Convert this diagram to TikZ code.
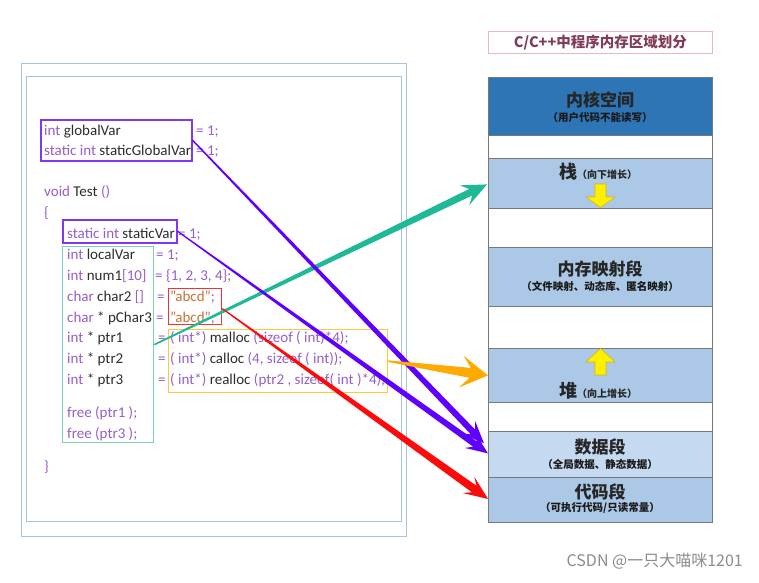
\documentclass[tikz,border=0pt]{standalone}
\usepackage{fontspec}
\setmainfont{Carlito}
\newfontfamily\cjk{Noto Sans CJK SC}
\usetikzlibrary{calc}
\definecolor{kw}{RGB}{150,95,200}
\definecolor{idc}{RGB}{45,45,45}
\definecolor{strc}{RGB}{195,115,55}
\definecolor{boxpur}{RGB}{125,55,245}
\definecolor{arrpur}{RGB}{95,0,255}
\definecolor{boxgrn}{RGB}{125,210,180}
\definecolor{arrgrn}{RGB}{30,185,150}
\definecolor{boxred}{RGB}{240,50,50}
\definecolor{arrred}{RGB}{255,10,10}
\definecolor{boxorg}{RGB}{255,200,60}
\definecolor{arrorg}{RGB}{255,170,0}
\definecolor{framec}{RGB}{165,195,222}
\definecolor{kern}{RGB}{46,117,182}
\definecolor{seg}{RGB}{171,200,230}
\definecolor{segl}{RGB}{197,217,240}
\definecolor{segline}{RGB}{120,120,120}
\definecolor{titlec}{RGB}{130,60,90}
\definecolor{titleb}{RGB}{232,180,200}
\definecolor{yel}{RGB}{255,240,0}
\definecolor{yeld}{RGB}{215,185,0}
\definecolor{wmark}{RGB}{140,140,140}
\newcommand\kwd[1]{\textcolor{kw}{#1}}
\newcommand\idn[1]{\textcolor{idc}{#1}}
\newcommand\strg[1]{\textcolor{strc}{#1}}
% tapered arrow: color, start, tip, half width start, half width end, head half width, head length, junction length
\newcommand\taperarrow[8]{%
  \coordinate (ta-b) at ($(#3)!#7!(#2)$);
  \coordinate (ta-j) at ($(#3)!#8!(#2)$);
  \fill[#1] ($(#2)!#4!90:(#3)$) -- ($(ta-j)!#5!90:(#3)$) -- ($(ta-b)!#6!90:(#3)$) -- (#3)
    -- ($(ta-b)!#6!-90:(#3)$) -- ($(ta-j)!#5!-90:(#3)$) -- ($(#2)!#4!-90:(#3)$) -- cycle;
}
\begin{document}
\begin{tikzpicture}[x=1pt,y=-1pt,
  codet/.style={anchor=base west, inner sep=0pt, font=\fontsize{15}{18}\selectfont},
  hlbox/.style={draw=#1, anchor=north west, inner sep=0pt, line width=1.6pt},
  segbox/.style={draw=segline, line width=0.8pt, anchor=north west, inner sep=0pt, minimum width=224pt, fill=#1},
  bigt/.style={inner sep=0pt, font=\cjk\bfseries\fontsize{17}{20}\selectfont, text=black!85},
  subt/.style={inner sep=0pt, font=\cjk\bfseries\fontsize{10.5}{12}\selectfont, text=black!90},
  yarrow/.style={fill=yel, draw=yeld, line width=0.6pt}
]
\useasboundingbox (0,0) rectangle (759,582);
\fill[white] (0,0) rectangle (759,582);
% frames
\node[draw=framec, line width=1.3pt, anchor=north west, minimum width=385pt, minimum height=473pt, inner sep=0pt] (outer) at (21,63) {};
\node[draw=framec, line width=1.3pt, anchor=north west, minimum width=375pt, minimum height=445pt, inner sep=0pt] (inner) at (26,76) {};
% code
\node[codet] (l1) at (44,135) {\kwd{int} \idn{globalVar}};
\node[codet] (l1b) at (196,135) {\kwd{= 1;}};
\node[codet] (l2) at (44,155) {\kwd{static int} \idn{staticGlobalVar}};
\node[codet] (l2b) at (196,155) {\kwd{= 1;}};
\node[codet] (l3) at (44,196) {\kwd{void} \idn{Test} \kwd{()}};
\node[codet] (l4) at (44,217) {\kwd{\{}};
\node[codet] (l5) at (67,238) {\kwd{static int} \idn{staticVar}};
\node[codet] (l5b) at (178,238) {\kwd{= 1;}};
\node[codet] (l6) at (67,259) {\kwd{int} \idn{localVar}};
\node[codet] (l6b) at (156,259) {\kwd{= 1;}};
\node[codet] (l7) at (67,280) {\kwd{int} \idn{num1}\kwd{[10]}};
\node[codet] (l7b) at (155,280) {\kwd{= \{1, 2, 3, 4\};}};
\node[codet] (l8) at (67,301) {\kwd{char} \idn{char2} \kwd{[]}};
\node[codet] (l8b) at (157,301) {\kwd{=}};
\node[codet] (l8c) at (170,301) {\strg{"abcd"}\kwd{;}};
\node[codet] (l9) at (67,322) {\kwd{char} \idn{* pChar3}};
\node[codet] (l9b) at (156,322) {\kwd{=}};
\node[codet] (l9c) at (170,322) {\strg{"abcd"}\kwd{;}};
\node[codet] (l10) at (67,342) {\kwd{int} \idn{* ptr1}};
\node[codet] (l10b) at (158,342) {\kwd{=}};
\node[codet] (l10c) at (170,342) {\kwd{( int*)} \idn{malloc} \kwd{(sizeof ( int)*4);}};
\node[codet] (l11) at (67,363) {\kwd{int} \idn{* ptr2}};
\node[codet] (l11b) at (158,363) {\kwd{=}};
\node[codet] (l11c) at (170,363) {\kwd{( int*)} \idn{calloc} \kwd{(4, sizeof ( int));}};
\node[codet] (l12) at (67,384) {\kwd{int} \idn{* ptr3}};
\node[codet] (l12b) at (158,384) {\kwd{=}};
\node[codet] (l12c) at (170,384) {\kwd{( int*)} \idn{realloc} \kwd{(ptr2 , sizeof( int )*4);}};
\node[codet] (l13) at (67,417) {\kwd{free (ptr1 );}};
\node[codet] (l14) at (67,438) {\kwd{free (ptr3 );}};
\node[codet] (l15) at (44,471) {\kwd{\}}};
% highlight boxes
\node[hlbox=boxpur, minimum width=151pt, minimum height=41pt] (gbox) at (40,119) {};
\node[hlbox=boxpur, minimum width=114pt, minimum height=23pt] (svbox) at (62,219) {};
\node[hlbox=boxgrn, line width=1.3pt, minimum width=91pt, minimum height=196pt] (lbox) at (62,246) {};
\node[hlbox=boxred, line width=1.3pt, minimum width=53pt, minimum height=36pt] (rbox) at (168,288) {};
\node[hlbox=boxorg, line width=1.3pt, minimum width=219pt, minimum height=63pt] (obox) at (168,329) {};
% memory column
\node[draw=titleb, line width=0.8pt, anchor=north west, inner sep=0pt, minimum width=224pt, minimum height=22pt,
  font=\cjk\bfseries\fontsize{14.5}{16}\selectfont, text=titlec] (title) at (488,31) {C/C++中程序内存区域划分};
\node[segbox=kern, minimum height=58pt] (kernel) at (488,77) {};
\node[segbox=white, minimum height=23pt] (gap1) at (488,135) {};
\node[segbox=seg, minimum height=50pt] (stack) at (488,158) {};
\node[segbox=white, minimum height=39pt] (gap2) at (488,208) {};
\node[segbox=seg, minimum height=59pt] (mmap) at (488,247) {};
\node[segbox=white, minimum height=42pt] (gap3) at (488,306) {};
\node[segbox=seg, minimum height=54pt] (heap) at (488,348) {};
\node[segbox=white, minimum height=29pt] (gap4) at (488,402) {};
\node[segbox=segl, minimum height=46pt] (data) at (488,431) {};
\node[segbox=seg, minimum height=45pt] (code) at (488,477) {};
\node[bigt] (kt1) at (600,100) {内核空间};
\node[subt] (kt2) at (600,118) {（用户代码不能读写）};
\node[inner sep=0pt, text=black!85] (st) at (598,172) {{\cjk\bfseries\fontsize{18}{20}\selectfont 栈}{\cjk\bfseries\fontsize{10}{12}\selectfont （向下增长）}};
\node[bigt] (mt1) at (600,269) {内存映射段};
\node[subt] (mt2) at (600,286) {（文件映射、动态库、匿名映射）};
\node[inner sep=0pt, text=black!85] (ht) at (598,391) {{\cjk\bfseries\fontsize{18}{20}\selectfont 堆}{\cjk\bfseries\fontsize{10}{12}\selectfont （向上增长）}};
\node[bigt] (dt1) at (600,447) {数据段};
\node[subt] (dt2) at (600,464) {（全局数据、静态数据）};
\node[bigt] (ct1) at (600,492) {代码段};
\node[subt] (ct2) at (600,508) {（可执行代码/只读常量）};
% yellow growth arrows
\draw[yarrow] (595,184) -- (606,184) -- (606,197) -- (615,197) -- (600.5,207.5) -- (586,197) -- (595,197) -- cycle;
\draw[yarrow] (600.5,348.5) -- (615,362) -- (606,362) -- (606,375) -- (595,375) -- (595,362) -- (586,362) -- cycle;
% connectors
\coordinate (gs) at (gbox.east);
\coordinate (gt) at ($(data.west)+(-4,-11)$);
\coordinate (ss) at (svbox.east);
\coordinate (st) at ($(data.west)+(0,-1)$);
\coordinate (ls) at (lbox.east);
\coordinate (lt) at ($(stack.west)+(-1,1)$);
\coordinate (rs) at ($(rbox.east)+(0,2)$);
\coordinate (rt) at ($(code.west)+(0,-1)$);
\coordinate (os) at (obox.east);
\coordinate (ot) at (heap.west);
\taperarrow{arrgrn}{ls}{lt}{0.8pt}{3.6pt}{11pt}{25pt}{18pt}
\taperarrow{arrpur}{gs}{gt}{0.7pt}{3.2pt}{9pt}{22pt}{16pt}
\taperarrow{arrpur}{ss}{st}{0.6pt}{3.2pt}{9pt}{22pt}{16pt}
\taperarrow{arrred}{rs}{rt}{0.6pt}{4pt}{10pt}{24pt}{17pt}
\taperarrow{arrorg}{os}{ot}{0.8pt}{5pt}{16pt}{27pt}{18pt}
% watermark
\node[anchor=east, inner sep=0pt, font=\cjk\fontsize{16}{18}\selectfont, text=wmark] (wm) at (743,561) {CSDN @一只大喵咪1201};
\end{tikzpicture}
\end{document}
